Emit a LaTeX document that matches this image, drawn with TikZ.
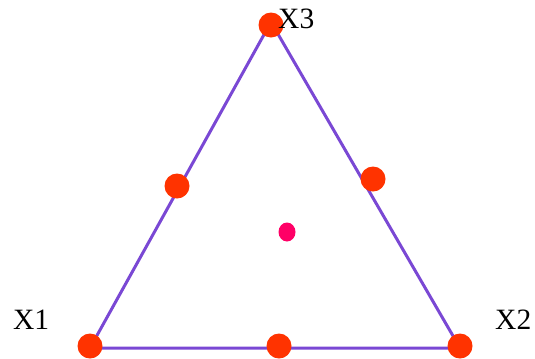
\documentclass[tikz,border=0pt]{standalone}
\usepackage{fontspec}
\setmainfont{Liberation Serif}
\usepackage{tikz}
\usetikzlibrary{shapes.geometric}

\definecolor{edgepurple}{RGB}{122,72,212}
\definecolor{dotred}{RGB}{255,51,0}
\definecolor{dotpink}{RGB}{255,0,102}

\tikzset{
	vdot/.style={circle, fill=dotred, inner sep=0pt, minimum size=25bp},
	vlabel/.style={anchor=base west, inner sep=0pt, font=\fontsize{29.5bp}{32bp}\selectfont}
}

\begin{document}
\begin{tikzpicture}[x=1bp, y=-1bp]
		
		\useasboundingbox (0,0) rectangle (535,358);
		
		% Corners of the simplex
		\coordinate (c1) at (90,348);
		\coordinate (c2) at (460,348);
		\coordinate (c3) at (271,22);
		
		% Triangle
		\draw[edgepurple, line width=3bp] (c1) -- (c2) -- (c3) -- cycle;
		
		% Vertex dots
		\node[vdot] (v1) at (90,346) {};
		\node[vdot] (v2) at (460,346) {};
		\node[vdot] (v3) at (271,25) {};
		
		% Edge dots
		\node[vdot] (m13) at (177,186) {};
		\node[vdot] (m23) at (373,179) {};
		\node[vdot] (m12) at (279,346) {};
		
		% Centre
		\node[ellipse, fill=dotpink, inner sep=0pt, minimum width=17bp, minimum height=19bp] (ctr) at (287,232) {};
		
		% Labels
		\node[vlabel] (x1) at (13,329) {X1};
		\node[vlabel] (x2) at (495,329) {X2};
		\node[vlabel] (x3) at (278,28) {X3};
		
	\end{tikzpicture}
\end{document}
